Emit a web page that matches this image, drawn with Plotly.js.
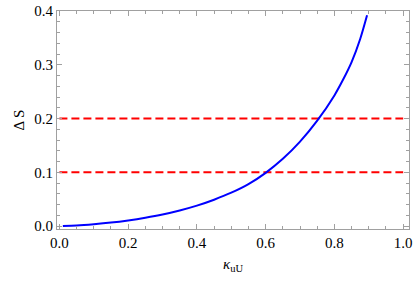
<!DOCTYPE html>
<html>
<head>
<meta charset="utf-8">
<script src="https://cdn.plot.ly/plotly-3.0.1.min.js"></script>
<style>html,body{margin:0;padding:0;background:#fff;}#chart{width:415px;height:281px;}</style>
</head>
<body>
<div id="chart"></div>
<script>
// Curve
const kappa = [0.01, 0.05, 0.10, 0.15, 0.20, 0.25, 0.30, 0.35, 0.40, 0.45, 0.50, 0.55, 0.60, 0.65, 0.70, 0.75, 0.80, 0.825, 0.85, 0.875, 0.895];
const deltaS = [0.0003, 0.0012, 0.0035, 0.0065, 0.0105, 0.0155, 0.0215, 0.029, 0.038, 0.049, 0.062, 0.078, 0.099, 0.125, 0.157, 0.196, 0.243, 0.272, 0.305, 0.348, 0.392];
// Reference levels
const levelX = [0.0, 1.0];
const levels = [0.1, 0.2];
const xTicks = [0.0, 0.2, 0.4, 0.6, 0.8, 1.0];
const yTicks = [0.0, 0.1, 0.2, 0.3, 0.4];

const traces = [];
levels.forEach(v => {
  traces.push({x: levelX, y: levelX.map(() => v), mode: 'lines',
    line: {color: 'rgb(255,0,0)', width: 2, dash: '8px,4px'}, hoverinfo: 'skip'});
});
traces.push({x: kappa, y: deltaS, mode: 'lines',
  line: {color: 'rgb(0,0,255)', width: 2, shape: 'spline', smoothing: 0.8}, hoverinfo: 'skip'});

const tf = {family: 'Liberation Serif', size: 15, color: '#000000'};

const layout = {
  width: 415, height: 281,
  margin: {l: 57, r: 6, t: 11, b: 52},
  paper_bgcolor: '#fff', plot_bgcolor: '#fff',
  showlegend: false,
  font: {family: 'Liberation Serif', size: 15, color: '#000000'},
  xaxis: {
    showgrid: false, zeroline: false, showline: true, linecolor: '#a0a0a0', linewidth: 1,
    mirror: 'ticks', ticks: 'inside', ticklen: 5, tickcolor: '#a0a0a0', tickwidth: 1,
    tickformat: '.1f', tickfont: tf,
    range: [-0.007, 1.017], tickvals: xTicks,
    minor: {dtick: 0.05, tick0: 0, ticks: 'inside', ticklen: 3, tickcolor: '#a0a0a0', showgrid: false},
    title: {text: '<i>κ</i><sub>uU</sub>', standoff: 8, font: tf}
  },
  yaxis: {
    showgrid: false, zeroline: false, showline: true, linecolor: '#a0a0a0', linewidth: 1,
    mirror: 'ticks', ticks: 'inside', ticklen: 5, tickcolor: '#a0a0a0', tickwidth: 1,
    tickformat: '.1f', tickfont: tf,
    range: [-0.0055, 0.4], tickvals: yTicks,
    minor: {dtick: 0.02, tick0: 0, ticks: 'inside', ticklen: 3, tickcolor: '#a0a0a0', showgrid: false},
    title: {text: 'Δ S', standoff: 6, font: tf}
  }
};

Plotly.newPlot('chart', traces, layout, {staticPlot: true, displayModeBar: false});
</script>
</body>
</html>
